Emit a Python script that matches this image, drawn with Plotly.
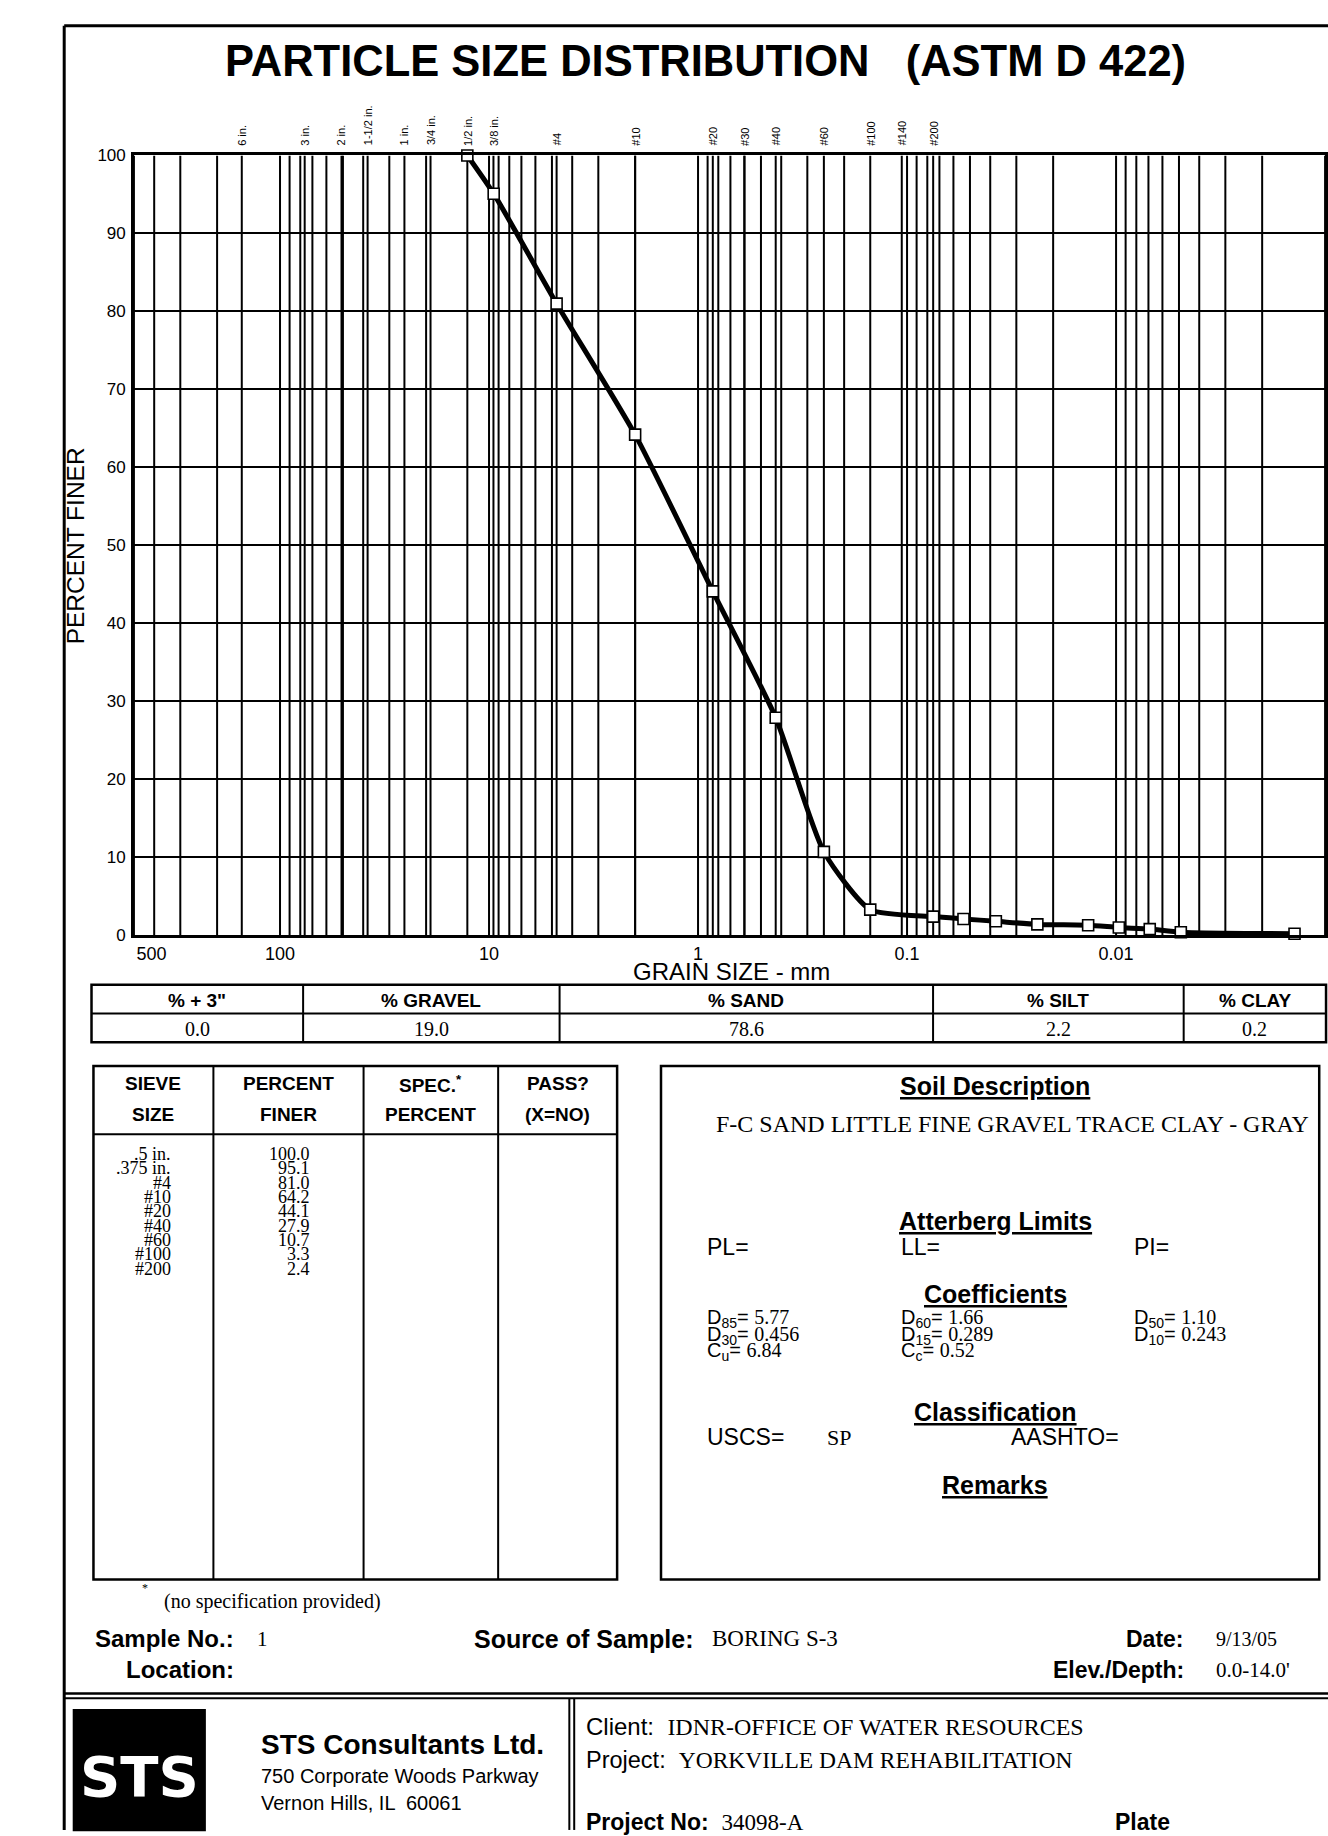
import numpy as np
import plotly.graph_objects as go

W, H = 1328, 1836
SANS = "Liberation Sans"
SERIF = "Liberation Serif"

# ---------------- data ----------------
sieve_labels = [".5 in.", ".375 in.", "#4", "#10", "#20", "#40", "#60", "#100", "#200"]
sieve_mm = [12.7, 9.5, 4.75, 2.0, 0.85, 0.425, 0.25, 0.15, 0.075]
sieve_finer = [100.0, 95.1, 81.0, 64.2, 44.1, 27.9, 10.7, 3.3, 2.4]

hydro_mm = [0.0537, 0.0376, 0.0238, 0.0136, 0.0097, 0.0069, 0.0049, 0.0014]
hydro_finer = [2.1, 1.8, 1.4, 1.3, 1.0, 0.8, 0.4, 0.2]

top_sieve_names = ["6 in.", "3 in.", "2 in.", "1-1/2 in.", "1 in.", "3/4 in.", "1/2 in.", "3/8 in.",
                   "#4", "#10", "#20", "#30", "#40", "#60", "#100", "#140", "#200"]
top_sieve_mm = [152.4, 76.2, 50.8, 38.1, 25.4, 19.05, 12.7, 9.525,
                4.75, 2.0, 0.85, 0.6, 0.425, 0.25, 0.15, 0.106, 0.075]

xtick_vals = [500, 100, 10, 1, 0.1, 0.01, 0.001]
xtick_text = ["\u00a0" * 7 + "500", "100", "10", "1", "0.1", "0.01", "0.001\u00a0"]
ytick_vals = [0, 10, 20, 30, 40, 50, 60, 70, 80, 90, 100]

summary_headers = ["% + 3\"", "% GRAVEL", "% SAND", "% SILT", "% CLAY"]
summary_values = ["0.0", "19.0", "78.6", "2.2", "0.2"]

soil_description = "F-C SAND LITTLE FINE GRAVEL TRACE CLAY - GRAY"
coeff_rows = [
    [("D", "85", "5.77"), ("D", "60", "1.66"), ("D", "50", "1.10")],
    [("D", "30", "0.456"), ("D", "15", "0.289"), ("D", "10", "0.243")],
    [("C", "u", "6.84"), ("C", "c", "0.52"), None],
]

# ---------------- helpers ----------------
def X(px):
    return px / W


def Y(py):
    return 1 - py / H


shapes = []
annotations = []


def line(x0, y0, x1, y1, w=2):
    shapes.append(dict(type="line", xref="paper", yref="paper", x0=X(x0), y0=Y(y0), x1=X(x1), y1=Y(y1),
                       line=dict(color="black", width=w)))


def rect(x0, y0, x1, y1, w=2, fill=None):
    d = dict(type="rect", xref="paper", yref="paper", x0=X(x0), y0=Y(y0), x1=X(x1), y1=Y(y1),
             line=dict(color="black", width=w))
    if fill:
        d["fillcolor"] = fill
    shapes.append(d)


def txt(x, y, s, size=18, anchor="left", family=SANS, color="black", yanchor="middle", angle=0):
    annotations.append(dict(xref="paper", yref="paper", x=X(x), y=Y(y), text=s, showarrow=False,
                            xanchor=anchor, yanchor=yanchor, textangle=angle,
                            font=dict(family=family, size=size, color=color)))


def u(s):
    return "<span style='text-decoration:underline'>" + s + "</span>"


def serif(s):
    return "<span style='font-family:Liberation Serif'>" + s + "</span>"


# plot area in pixels
PL, PR, PT, PB = 103.5, 1325, 148, 936

fig = go.Figure()

# vertical grid lines (log grid) + sieve lines
grid_mm = []
for k in range(-3, 3):
    for m in range(1, 10):
        v = m * 10.0 ** k
        if 0.001 <= v <= 500:
            grid_mm.append(v)
gx, gy = [], []
for v in grid_mm + top_sieve_mm:
    gx += [v, v, None]
    gy += [0, 100, None]
fig.add_trace(go.Scatter(x=gx, y=gy, mode="lines", line=dict(color="black", width=2.0),
                         hoverinfo="skip", showlegend=False))

# gradation curve
all_mm = sieve_mm + hydro_mm
all_finer = sieve_finer + hydro_finer
fig.add_trace(go.Scatter(x=all_mm, y=all_finer, mode="lines+markers",
                         line=dict(color="black", width=5, shape="spline", smoothing=0.6),
                         marker=dict(symbol="square", size=11, color="white",
                                     line=dict(color="black", width=1.6)),
                         cliponaxis=False, showlegend=False))

fig.update_xaxes(type="log", range=[np.log10(500), -3], domain=[X(PL), X(PR)],
                 showgrid=False, zeroline=False, showline=True, mirror=True,
                 linecolor="black", linewidth=2.5,
                 tickvals=xtick_vals, ticktext=xtick_text, ticks="",
                 tickfont=dict(family=SANS, size=18, color="black"))
fig.update_yaxes(range=[0, 100], domain=[Y(PB), Y(PT)],
                 showgrid=True, gridcolor="black", gridwidth=2.0, zeroline=False,
                 showline=True, mirror=True, linecolor="black", linewidth=2.5,
                 tickvals=ytick_vals, ticks="", ticklabelstandoff=2,
                 tickfont=dict(family=SANS, size=17, color="black"))

# sieve labels above plot
for name, v in zip(top_sieve_names, top_sieve_mm):
    annotations.append(dict(xref="x", yref="paper", x=np.log10(v), y=Y(PT - 8), text=name,
                            showarrow=False, textangle=-90, xanchor="center", yanchor="bottom",
                            font=dict(family=SANS, size=11, color="black")))

# ---------------- page frame ----------------
line(32, 17, 1330, 17, 3)
line(32, 17, 32, 1840, 3)

# title
txt(690, 53, "<b>PARTICLE SIZE DISTRIBUTION   (ASTM D 422)</b>", 43.5, "center")

# axis titles
txt(43, 542, "PERCENT FINER", 24.5, "center", angle=-90)
txt(716, 973, "GRAIN SIZE - mm", 24, "center")

# ---------------- summary table ----------------
ST_L, ST_R, ST_T, ST_M, ST_B = 60, 1326, 986, 1015, 1044
col_edges = [ST_L, 277, 540, 923, 1180, ST_R]
rect(ST_L, ST_T, ST_R, ST_B, 2.5)
line(ST_L, ST_M, ST_R, ST_M, 2)
for xe in col_edges[1:-1]:
    line(xe, ST_T, xe, ST_B, 2)
for i, (h, v) in enumerate(zip(summary_headers, summary_values)):
    cx = (col_edges[i] + col_edges[i + 1]) / 2
    txt(cx, (ST_T + ST_M) / 2 + 1, "<b>" + h + "</b>", 19, "center")
    txt(cx, (ST_M + ST_B) / 2 + 1, v, 20, "center", SERIF)

# ---------------- sieve table ----------------
T_L, T_R, T_T, T_HB, T_B = 62, 599, 1068, 1137, 1587
tcols = [T_L, 185, 339, 477, T_R]
rect(T_L, T_T, T_R, T_B, 2.5)
line(T_L, T_HB, T_R, T_HB, 2)
for xe in tcols[1:-1]:
    line(xe, T_T, xe, T_B, 2)
heads = [("SIEVE", "SIZE"), ("PERCENT", "FINER"), ("SPEC.<sup>*</sup>", "PERCENT"), ("PASS?", "(X=NO)")]
for i, (a, b) in enumerate(heads):
    cx = (tcols[i] + tcols[i + 1]) / 2
    txt(cx, 1086, "<b>" + a + "</b>", 19, "center")
    txt(cx, 1117, "<b>" + b + "</b>", 19, "center")
row_y0, row_dy = 1157, 14.5
for j, (lab, val) in enumerate(zip(sieve_labels, sieve_finer)):
    yy = row_y0 + j * row_dy
    txt(144, yy, lab, 18, "right", SERIF)
    txt(286, yy, f"{val:.1f}", 18, "right", SERIF)

txt(115, 1596, "*", 12, "center", SERIF)
txt(132, 1609, "(no specification provided)", 20, "left", SERIF)

# ---------------- soil description box ----------------
B_L, B_R, B_T, B_B = 644, 1319, 1068, 1587
rect(B_L, B_T, B_R, B_B, 2.5)
BC = 987
txt(BC, 1088, "<b>" + u("Soil Description") + "</b>", 25, "center")
txt(1004, 1127, soil_description, 24, "center", SERIF)
txt(BC, 1225, "<b>" + u("Atterberg Limits") + "</b>", 25, "center")
txt(689, 1251, "PL=", 23)
txt(888, 1251, "LL=", 23)
txt(1127, 1251, "PI=", 23)
txt(BC, 1298, "<b>" + u("Coefficients") + "</b>", 25, "center")
coef_x = [689, 888, 1127]
coef_y = [1323, 1340, 1357]
for r, row in enumerate(coeff_rows):
    for c, item in enumerate(row):
        if item is None:
            continue
        sym, sub, val = item
        s = sym + "<sub>" + sub + "</sub>= " + serif(val)
        txt(coef_x[c], coef_y[r], s, 20)
txt(BC, 1418, "<b>" + u("Classification") + "</b>", 25, "center")
txt(689, 1443, "USCS=", 23)
txt(812, 1443, "SP", 22, "left", SERIF)
txt(1001, 1443, "AASHTO=", 23)
txt(BC, 1491, "<b>" + u("Remarks") + "</b>", 25, "center")

# ---------------- sample info ----------------
txt(208, 1647, "<b>Sample No.:</b>", 24, "right")
txt(228, 1647, "1", 21, "left", SERIF)
txt(208, 1678, "<b>Location:</b>", 24, "right")
txt(450, 1647, "<b>Source of Sample:</b>", 25)
txt(694, 1647, "BORING S-3", 23, "left", SERIF)
txt(1182, 1647, "<b>Date:</b>", 23, "right")
txt(1211, 1647, "9/13/05", 20, "left", SERIF)
txt(1182, 1678, "<b>Elev./Depth:</b>", 23, "right")
txt(1211, 1678, "0.0-14.0'", 21, "left", SERIF)

# ---------------- title block ----------------
line(32, 1702, 1330, 1702, 2.5)
line(32, 1707, 1330, 1707, 2)
line(550, 1707, 550, 1840, 2)
line(555, 1707, 555, 1840, 2)

# logo
rect(42, 1719, 176, 1840, 2.5, fill="black")
txt(109, 1786, "<b>STS</b>", 56, "center", "DejaVu Sans", color="white")
txt(232, 1754, "<b>STS Consultants Ltd.</b>", 28)
txt(232, 1785, "750 Corporate Woods Parkway", 20)
txt(232, 1813, "Vernon Hills, IL  60061", 20)

txt(565, 1735, "Client:  " + serif("IDNR-OFFICE OF WATER RESOURCES"), 24)
txt(565, 1769, "Project:  " + serif("YORKVILLE DAM REHABILITATION"), 23.5)
txt(565, 1832, "<b>Project No:</b>  " + serif("34098-A"), 23)
txt(1108, 1832, "<b>Plate</b>", 23)

fig.update_layout(width=W, height=H, margin=dict(l=0, r=0, t=0, b=0),
                  paper_bgcolor="white", plot_bgcolor="white",
                  shapes=shapes, annotations=annotations, showlegend=False)

fig.write_html("out.html", config={"displayModeBar": False},
               post_script="document.body.style.margin='0';document.body.style.overflow='hidden';")
